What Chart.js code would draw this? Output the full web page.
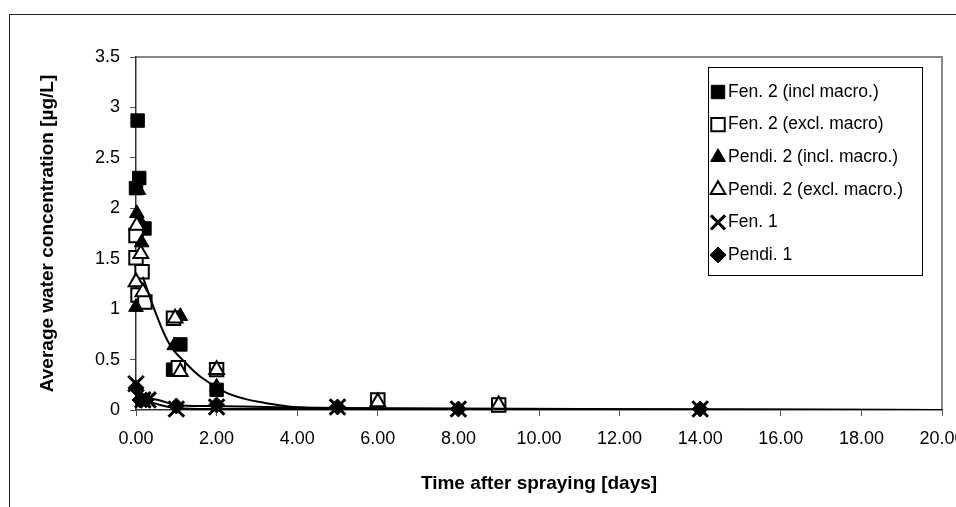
<!DOCTYPE html>
<html>
<head>
<meta charset="utf-8">
<script src="https://cdn.jsdelivr.net/npm/chart.js@4.4.1/dist/chart.umd.min.js"></script>
<style>
  html, body { margin: 0; padding: 0; background: #fff; }
  #wrap { width: 956px; height: 507px; position: relative; }
</style>
</head>
<body>
<div id="wrap"><canvas id="c" width="956" height="507"></canvas></div>
<script>
// values
const seriesNames = ['Fen. 2 (incl macro.)', 'Fen. 2 (excl. macro)', 'Pendi. 2 (incl. macro.)',
                     'Pendi. 2 (excl. macro.)', 'Fen. 1', 'Pendi. 1'];

const fen2InclX = [0.00, 0.04, 0.08, 0.21, 0.92, 1.10, 2.00, 6.00, 9.00];
const fen2InclY = [2.20, 2.87, 2.30, 1.80, 0.40, 0.65, 0.20, 0.07, 0.05];

const fen2ExclX = [0.00, 0.00, 0.15, 0.05, 0.22, 0.93, 1.05, 2.00, 6.00, 9.00];
const fen2ExclY = [1.73, 1.51, 1.37, 1.14, 1.07, 0.91, 0.42, 0.40, 0.10, 0.05];

const pendi2InclX = [0.06, 0.02, 0.10, 0.14, 0.00, 1.10, 0.95, 2.00];
const pendi2InclY = [2.18, 1.95, 1.87, 1.66, 1.02, 0.93, 0.64, 0.23];

const pendi2ExclX = [0.02, 0.12, 0.00, 0.17, 0.97, 1.10, 2.00, 6.00, 9.00];
const pendi2ExclY = [1.83, 1.55, 1.27, 1.17, 0.91, 0.38, 0.40, 0.08, 0.05];

const fen1X = [0.00, 0.17, 0.30, 1.00, 2.00, 5.00, 8.00, 14.00];
const fen1Y = [0.26, 0.10, 0.10, 0.01, 0.03, 0.03, 0.01, 0.01];

const pendi1X = [0.00, 0.10, 0.25, 1.00, 2.00, 5.00, 8.00, 14.00];
const pendi1Y = [0.22, 0.10, 0.10, 0.04, 0.05, 0.03, 0.01, 0.01];

// fitted curves as they appear in the picture
const trend2X = [0.17, 0.50, 0.85, 1.20, 1.60, 2.20, 2.70, 3.20, 3.90, 5.00, 8.00, 20.00];
const trend2Y = [1.32, 0.95, 0.64, 0.48, 0.33, 0.18, 0.11, 0.07, 0.03, 0.015, 0.005, 0.00];

const trendPendi1X = [0.10, 0.55, 1.00, 2.00, 5.00, 20.00];
const trendPendi1Y = [0.12, 0.10, 0.05, 0.04, 0.02, 0.00];

const trendFen1X = [0.20, 0.60, 1.00, 2.00, 5.00, 20.00];
const trendFen1Y = [0.10, 0.05, 0.02, 0.01, 0.01, 0.00];

const xTicks = [0, 2, 4, 6, 8, 10, 12, 14, 16, 18, 20];
const yTicks = [0, 0.5, 1, 1.5, 2, 2.5, 3, 3.5];

const pts = (xs, ys) => xs.map((x, i) => ({ x: x, y: ys[i] }));

const FONT = 'Arial, "Liberation Sans", sans-serif';

// marker look per series
const markers = [
    { style: 'rect', r: 9.5, fill: '#000', stroke: '#000', bw: 1 },
    { style: 'rect', r: 9.5, fill: '#fff', stroke: '#000', bw: 2 },
    { style: 'triangle', r: 8.5, fill: '#000', stroke: '#000', bw: 1 },
    { style: 'triangle', r: 8.5, fill: '#fff', stroke: '#000', bw: 2 },
    { style: 'crossRot', r: 11, fill: '#000', stroke: '#000', bw: 3 },
    { style: 'rectRot', r: 8, fill: '#000', stroke: '#000', bw: 1 }
];
const seriesData = [
    pts(fen2InclX, fen2InclY), pts(fen2ExclX, fen2ExclY), pts(pendi2InclX, pendi2InclY),
    pts(pendi2ExclX, pendi2ExclY), pts(fen1X, fen1Y), pts(pendi1X, pendi1Y)
];

const datasets = seriesData.map((d, i) => ({
    label: seriesNames[i],
    data: d,
    showLine: false,
    clip: false,
    pointStyle: markers[i].style,
    pointRadius: markers[i].r,
    pointBackgroundColor: markers[i].fill,
    pointBorderColor: markers[i].stroke,
    pointBorderWidth: markers[i].bw,
    order: 10 - i
}));

[[trend2X, trend2Y], [trendPendi1X, trendPendi1Y], [trendFen1X, trendFen1Y]].forEach((t) => {
    datasets.push({
        label: 'trend',
        data: pts(t[0], t[1]),
        showLine: true,
        tension: 0.4,
        borderColor: '#000',
        borderWidth: 2,
        pointRadius: 0,
        order: 1
    });
});

// small marker drawer for the legend
function drawMarker(ctx, m, x, y) {
    ctx.save();
    ctx.fillStyle = m.fill;
    ctx.strokeStyle = m.stroke;
    ctx.lineWidth = m.bw;
    ctx.beginPath();
    if (m.style === 'rect') {
        const s = m.r * Math.SQRT1_2;
        ctx.rect(x - s, y - s, 2 * s, 2 * s);
        ctx.fill(); ctx.stroke();
    } else if (m.style === 'triangle') {
        for (let k = 0; k < 3; k++) {
            const a = k * 2 * Math.PI / 3;
            const px = x + Math.sin(a) * m.r, py = y - Math.cos(a) * m.r;
            if (k === 0) ctx.moveTo(px, py); else ctx.lineTo(px, py);
        }
        ctx.closePath();
        ctx.fill(); ctx.stroke();
    } else if (m.style === 'crossRot') {
        const s = m.r * Math.SQRT1_2;
        ctx.moveTo(x - s, y - s); ctx.lineTo(x + s, y + s);
        ctx.moveTo(x + s, y - s); ctx.lineTo(x - s, y + s);
        ctx.stroke();
    } else {
        ctx.moveTo(x, y - m.r); ctx.lineTo(x + m.r, y); ctx.lineTo(x, y + m.r); ctx.lineTo(x - m.r, y);
        ctx.closePath();
        ctx.fill(); ctx.stroke();
    }
    ctx.restore();
}

const framePlugin = {
    id: 'frame',
    beforeDraw: (chart) => {
        const ctx = chart.ctx;
        const a = chart.chartArea;
        ctx.save();
        ctx.fillStyle = '#fff';
        ctx.fillRect(0, 0, chart.width, chart.height);
        // outer chart border
        ctx.strokeStyle = '#222';
        ctx.lineWidth = 1;
        ctx.strokeRect(9.5, 14.5, 1000, 600);
        // plot area border (top + right)
        ctx.strokeStyle = '#888';
        ctx.lineWidth = 2;
        ctx.beginPath();
        ctx.moveTo(a.left, a.top);
        ctx.lineTo(a.right, a.top);
        ctx.lineTo(a.right, a.bottom);
        ctx.stroke();
        ctx.restore();
    },
    afterDraw: (chart) => {
        const ctx = chart.ctx;
        const bx = 708.5, by = 67.5, bw = 214, bh = 208;
        ctx.save();
        ctx.fillStyle = '#fff';
        ctx.fillRect(bx, by, bw, bh);
        ctx.strokeStyle = '#000';
        ctx.lineWidth = 1;
        ctx.strokeRect(bx, by, bw, bh);
        ctx.font = '17.5px ' + FONT;
        ctx.textBaseline = 'middle';
        seriesNames.forEach((name, i) => {
            const y = 92 + i * 32.6;
            const m = Object.assign({}, markers[i]);
            m.r = m.style === 'crossRot' ? 10 : m.r;
            drawMarker(ctx, m, 718, y);
            ctx.fillStyle = '#000';
            ctx.fillText(name, 728, y);
        });
        ctx.restore();
    }
};

new Chart(document.getElementById('c').getContext('2d'), {
    type: 'scatter',
    data: { datasets: datasets },
    plugins: [framePlugin],
    options: {
        responsive: false,
        animation: false,
        devicePixelRatio: 1,
        layout: { padding: { top: 57, right: 13, left: 0, bottom: 0 } },
        plugins: { legend: { display: false }, tooltip: { enabled: false } },
        scales: {
            x: {
                type: 'linear', min: 0, max: 20,
                afterFit: (s) => { s.height = 97; s.paddingLeft = 0; s.paddingRight = 0; },
                afterBuildTicks: (s) => { s.ticks = xTicks.map(v => ({ value: v })); },
                ticks: { color: '#000', font: { family: FONT, size: 18 }, padding: 12,
                         maxRotation: 0, autoSkip: false, callback: (v) => Number(v).toFixed(2) },
                grid: { drawOnChartArea: false, tickLength: 6, color: '#555' },
                border: { color: '#333', width: 1.5 },
                title: { display: true, text: 'Time after spraying [days]', color: '#000',
                         font: { family: FONT, size: 19, weight: 'bold' }, padding: { top: 4, bottom: 12 } }
            },
            y: {
                type: 'linear', min: 0, max: 3.5,
                afterFit: (s) => { s.width = 136; },
                afterBuildTicks: (s) => { s.ticks = yTicks.map(v => ({ value: v })); },
                ticks: { color: '#000', font: { family: FONT, size: 18 }, padding: 10,
                         autoSkip: false, callback: (v) => String(v) },
                grid: { drawOnChartArea: false, tickLength: 6, color: '#555' },
                border: { color: '#333', width: 1.5 },
                title: { display: true, text: 'Average water concentration [µg/L]', color: '#000',
                         font: { family: FONT, size: 19, weight: 'bold' }, padding: { top: 36, bottom: 0 } }
            }
        }
    }
});
</script>
</body>
</html>
